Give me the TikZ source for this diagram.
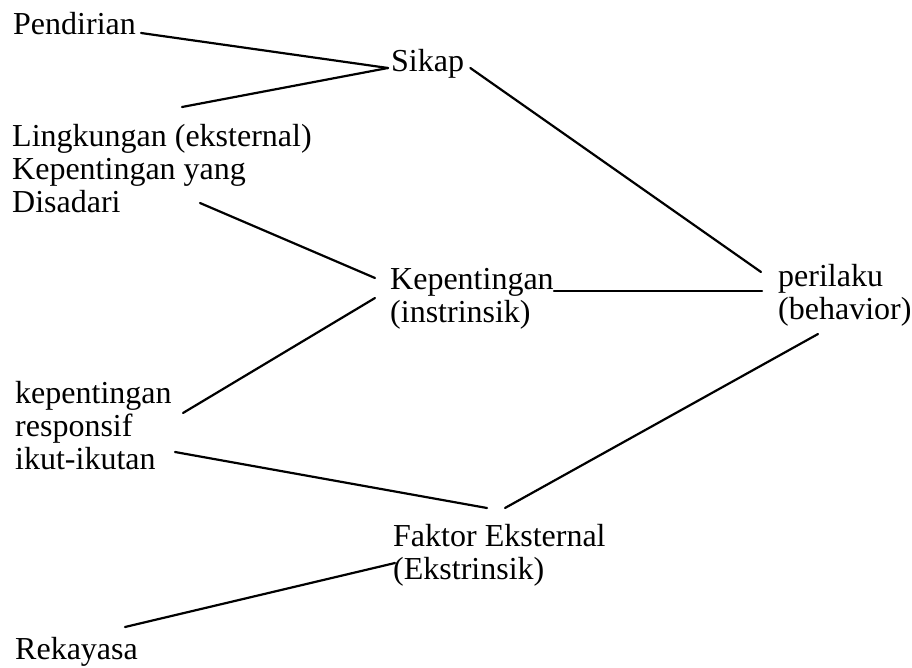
\documentclass[tikz,border=0pt]{standalone}
\usepackage{fontspec}
\setmainfont{Liberation Serif}
\usetikzlibrary{calc}
\newcommand{\mlines}[1]{\begin{tabular}[t]{@{}l@{}}#1\end{tabular}}
\begin{document}
\begin{tikzpicture}[x=1pt,y=-1pt,
  lbl/.style={anchor=base west,inner sep=0pt,font=\fontsize{32}{33}\selectfont},
  conn/.style={line width=2.2pt,line cap=round}]
\useasboundingbox (0,0) rectangle (912,668);
\node[lbl] (pend) at (13,35) {Pendirian};
\node[lbl] (sikap) at (391,72) {Sikap};
\node[lbl] (ling) at (12,147) {\mlines{Lingkungan (eksternal)\\Kepentingan yang\\Disadari}};
\node[lbl] (kep) at (390,289) {\mlines{Kepentingan\\(instrinsik)}};
\node[lbl] (peri) at (778,286) {\mlines{perilaku\\(behavior)}};
\node[lbl] (kr) at (15,403) {\mlines{kepentingan\\responsif\\ikut-ikutan}};
\node[lbl] (fak) at (393,546) {\mlines{Faktor Eksternal\\(Ekstrinsik)}};
\node[lbl] (rek) at (15,659) {Rekayasa};
% connectors
\draw[conn] ($(pend.base east)+(5,-2)$) -- ($(sikap.base west)+(-3,-4)$);
\draw[conn] ($(ling.base west)+(170,-40)$) -- ($(sikap.base west)+(-3,-4)$);
\draw[conn] ($(sikap.base east)+(6,-4)$) -- ($(peri.base west)+(-17,-14)$);
\draw[conn] ($(ling.base west)+(188,56)$) -- ($(kep.base west)+(-15,-11)$);
\draw[conn] ($(kep.base east)+(0,2)$) -- ($(peri.base west)+(-16,5)$);
\draw[conn] ($(kep.base west)+(-15,9)$) -- ($(kr.base west)+(168,10)$);
\draw[conn] ($(kr.base west)+(160,49)$) -- ($(fak.base west)+(94,-38)$);
\draw[conn] ($(fak.base west)+(112,-38)$) -- ($(peri.base west)+(40,48)$);
\draw[conn] ($(rek.base west)+(110,-32)$) -- ($(fak.base west)+(2,17)$);
\end{tikzpicture}
\end{document}
